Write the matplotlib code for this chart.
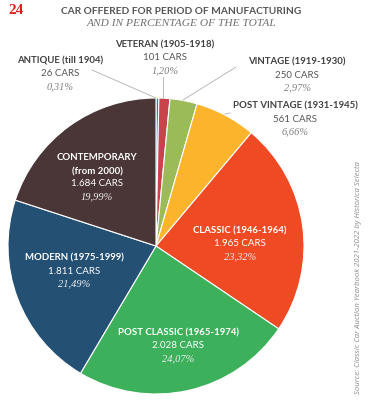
import matplotlib
matplotlib.use("Agg")
import matplotlib.pyplot as plt

categories = ["ANTIQUE (till 1904)", "VETERAN (1905-1918)", "VINTAGE (1919-1930)",
              "POST VINTAGE (1931-1945)", "CLASSIC (1946-1964)", "POST CLASSIC (1965-1974)",
              "MODERN (1975-1999)", "CONTEMPORARY\n(from 2000)"]
cars = [26, 101, 250, 561, 1965, 2028, 1811, 1684]
cars_text = ["26 CARS", "101 CARS", "250 CARS", "561 CARS", "1.965 CARS", "2.028 CARS", "1.811 CARS", "1.684 CARS"]
pct_text = ["0,31%", "1,20%", "2,97%", "6,66%", "23,32%", "24,07%", "21,49%", "19,99%"]
colors = ["#2a7fd0", "#c9444a", "#9bbb59", "#fbb42b", "#ef4a24", "#3cb05a", "#245074", "#4a3537"]

W, H = 371, 400
fig = plt.figure(figsize=(W / 100, H / 100), dpi=100)
ax = fig.add_axes([0, 0, 1, 1])

def Y(y):
    return H - y

ax.pie(cars, colors=colors, startangle=90, counterclock=False,
       center=(156, Y(246)), radius=148, frame=True,
       wedgeprops=dict(edgecolor="white", linewidth=0.8))
ax.set_xlim(0, W)
ax.set_ylim(0, H)
ax.axis("off")

sans = "Lato"
serif = "Liberation Serif"
dark = "#404040"
grey = "#7f7f7f"

ax.text(8, Y(11), "24", color="#e0201c", fontsize=11, fontweight="bold", family=serif, va="center", ha="left")
ax.text(181, Y(11), "CAR OFFERED FOR PERIOD OF MANUFACTURING", color="#555555", fontsize=7.3,
        fontweight="bold", family=sans, va="center", ha="center")
ax.text(181, Y(23), "AND IN PERCENTAGE OF THE TOTAL", color="#707070", fontsize=8.2,
        style="italic", family=serif, va="center", ha="center")

# label positions (x, y of first line), colour scheme
pos = [(60, 61), (165, 45), (297, 62), (295, 106), (240, 231), (178, 333), (74, 258), (97, 158)]
inside = [False, False, False, False, True, True, True, True]
for i in range(len(cars)):
    x, y = pos[i]
    c1 = "white" if inside[i] else dark
    c2 = "white" if inside[i] else "#555555"
    c3 = "#eeeeee" if inside[i] else grey
    lines = categories[i].split("\n")
    for k, ln in enumerate(lines):
        ax.text(x, Y(y + 13.5 * k), ln, color=c1, fontsize=6.9, fontweight="bold", family=sans,
                ha="center", va="center")
    y2 = y + 13 * len(lines)
    ax.text(x, Y(y2), cars_text[i], color=c2, fontsize=7, family=sans, ha="center", va="center")
    ax.text(x, Y(y2 + 13), pct_text[i], color=c3, fontsize=7.5, style="italic", family=serif,
            ha="center", va="center")

# leader lines
lc = "#b0b0b0"
ax.plot([92, 156], [Y(70), Y(98)], color=lc, lw=0.6)
ax.plot([163, 163], [Y(77), Y(98)], color=lc, lw=0.6)
ax.plot([236, 183], [Y(67), Y(100)], color=lc, lw=0.6)
ax.plot([225, 230], [Y(114), Y(113)], color=lc, lw=0.6)

ax.text(358, Y(278), "Source: Classic Car Auction Yearbook 2021-2022 by Historica Selecta",
        rotation=90, color="#8a8a8a", fontsize=5.6, style="italic", family="Open Sans",
        ha="center", va="center")

fig.savefig("out.png", dpi=100)
